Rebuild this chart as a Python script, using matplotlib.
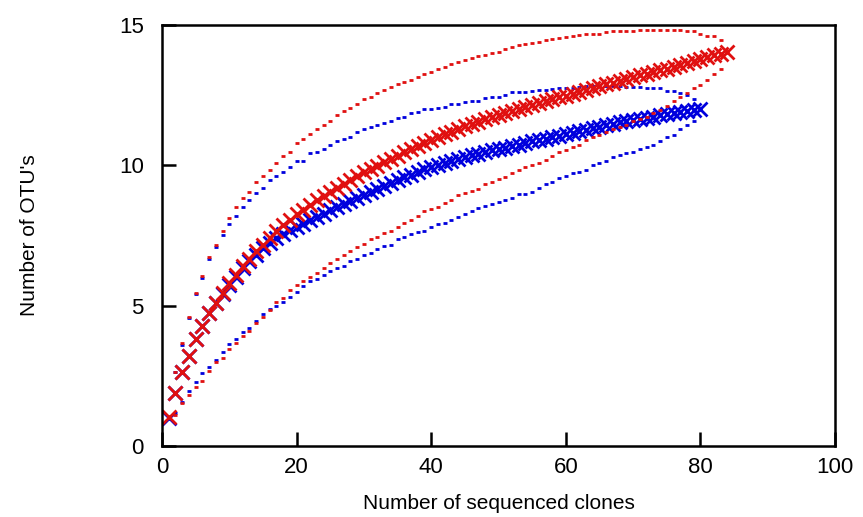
import matplotlib
matplotlib.use("Agg")
import matplotlib.pyplot as plt

plt.rcParams['font.family'] = ['Liberation Sans', 'DejaVu Sans']

# sample A (red): mean rarefaction curve and 95% bounds
red_mean = [1.02, 1.88, 2.65, 3.2, 3.8, 4.27, 4.73, 5.1, 5.45, 5.8,
            6.1, 6.4, 6.68, 6.95, 7.18, 7.42, 7.65, 7.87, 8.07, 8.25,
            8.42, 8.58, 8.75, 8.9, 9.05, 9.19, 9.33, 9.47, 9.61, 9.75,
            9.87, 9.99, 10.11, 10.23, 10.35, 10.46, 10.57, 10.68, 10.79, 10.9,
            11.0, 11.1, 11.2, 11.3, 11.4, 11.48, 11.56, 11.64, 11.72, 11.8,
            11.87, 11.94, 12.01, 12.08, 12.15, 12.22, 12.29, 12.35, 12.42, 12.48,
            12.55, 12.62, 12.69, 12.75, 12.82, 12.89, 12.95, 13.02, 13.08, 13.15,
            13.21, 13.27, 13.33, 13.39, 13.45, 13.52, 13.58, 13.65, 13.72, 13.78,
            13.85, 13.92, 13.98, 14.05]
red_upper = [2.62, 3.68, 4.6, 5.46, 6.07, 6.72, 7.16, 7.67, 8.11, 8.53,
             8.82, 9.06, 9.39, 9.62, 9.83, 10.07, 10.33, 10.49, 10.78, 10.93,
             11.11, 11.28, 11.44, 11.59, 11.79, 11.95, 12.03, 12.18, 12.35, 12.44,
             12.59, 12.68, 12.78, 12.9, 12.98, 13.05, 13.15, 13.25, 13.33, 13.42,
             13.52, 13.61, 13.68, 13.75, 13.81, 13.89, 13.93, 14.01, 14.05, 14.13,
             14.23, 14.29, 14.32, 14.37, 14.4, 14.45, 14.5, 14.55, 14.56, 14.62,
             14.66, 14.68, 14.68, 14.68, 14.76, 14.78, 14.78, 14.78, 14.78, 14.84,
             14.84, 14.84, 14.84, 14.84, 14.84, 14.84, 14.78, 14.78, 14.68, 14.62,
             14.6, 14.46]
red_lower = [1.12, 1.52, 1.82, 2.09, 2.33, 2.67, 2.98, 3.12, 3.45, 3.68,
             3.92, 4.11, 4.39, 4.61, 4.85, 5.14, 5.28, 5.56, 5.74, 5.88,
             6.03, 6.18, 6.35, 6.51, 6.65, 6.8, 6.95, 7.1, 7.2, 7.36,
             7.43, 7.6, 7.67, 7.81, 7.96, 8.05, 8.19, 8.38, 8.44, 8.53,
             8.67, 8.76, 8.94, 9.0, 9.1, 9.14, 9.33, 9.42, 9.53, 9.6,
             9.71, 9.83, 9.95, 10.01, 10.09, 10.19, 10.33, 10.49, 10.55, 10.66,
             10.72, 10.9, 11.0, 11.08, 11.2, 11.28, 11.35, 11.44, 11.59, 11.65,
             11.73, 11.88, 11.97, 12.11, 12.29, 12.45, 12.59, 12.74, 12.88, 13.04,
             13.24, 13.45]

# sample B (blue)
blue_mean = [1.0, 1.88, 2.65, 3.22, 3.82, 4.28, 4.75, 5.1, 5.42, 5.75,
             6.03, 6.33, 6.6, 6.82, 7.05, 7.25, 7.42, 7.56, 7.68, 7.8,
             7.92, 8.04, 8.16, 8.28, 8.4, 8.51, 8.62, 8.73, 8.84, 8.95,
             9.06, 9.17, 9.27, 9.37, 9.47, 9.57, 9.67, 9.77, 9.86, 9.95,
             10.02, 10.09, 10.16, 10.23, 10.3, 10.36, 10.42, 10.48, 10.53, 10.58,
             10.63, 10.69, 10.74, 10.8, 10.85, 10.9, 10.95, 11.0, 11.05, 11.1,
             11.16, 11.22, 11.27, 11.33, 11.38, 11.43, 11.48, 11.53, 11.58, 11.62,
             11.66, 11.7, 11.74, 11.78, 11.82, 11.86, 11.9, 11.94, 11.98, 12.02]
blue_upper = [2.62, 3.6, 4.55, 5.4, 6.0, 6.65, 7.1, 7.52, 7.9, 8.19,
              8.53, 8.76, 9.0, 9.21, 9.48, 9.62, 9.77, 9.93, 10.15, 10.15,
              10.43, 10.49, 10.6, 10.71, 10.87, 10.95, 11.02, 11.18, 11.28, 11.35,
              11.44, 11.5, 11.59, 11.67, 11.73, 11.85, 11.89, 12.0, 12.02, 12.05,
              12.09, 12.18, 12.2, 12.24, 12.29, 12.3, 12.4, 12.44, 12.44, 12.52,
              12.6, 12.6, 12.6, 12.65, 12.68, 12.68, 12.72, 12.74, 12.74, 12.74,
              12.78, 12.83, 12.83, 12.83, 12.83, 12.83, 12.83, 12.8, 12.8, 12.8,
              12.74, 12.74, 12.74, 12.66, 12.66, 12.59, 12.5, 12.36]
blue_lower = [1.16, 1.58, 1.97, 2.27, 2.61, 2.83, 3.07, 3.34, 3.62, 3.83,
              4.06, 4.19, 4.46, 4.7, 4.88, 4.99, 5.14, 5.3, 5.5, 5.71,
              5.88, 5.95, 6.09, 6.25, 6.35, 6.42, 6.59, 6.65, 6.8, 6.89,
              7.02, 7.12, 7.18, 7.36, 7.43, 7.54, 7.61, 7.67, 7.81, 7.91,
              7.96, 8.05, 8.17, 8.26, 8.38, 8.47, 8.55, 8.62, 8.7, 8.76,
              8.82, 8.98, 8.98, 9.06, 9.21, 9.33, 9.4, 9.56, 9.63, 9.71,
              9.77, 9.85, 10.01, 10.07, 10.16, 10.3, 10.38, 10.43, 10.48, 10.57,
              10.64, 10.71, 10.87, 11.02, 11.08, 11.28, 11.43, 11.59]

red_x = list(range(1, len(red_mean) + 1))
red_bx = list(range(2, len(red_upper) + 2))
blue_x = list(range(1, len(blue_mean) + 1))
blue_bx = list(range(2, len(blue_upper) + 2))

RED = '#e01010'
BLUE = '#0000dd'

fig = plt.figure(figsize=(8.63, 5.17), dpi=100)
ax = fig.add_axes([0.1877, 0.1373, 0.7799, 0.8143])

for x, m, bx, up, lo, c in [(blue_x, blue_mean, blue_bx, blue_upper, blue_lower, BLUE),
                            (red_x, red_mean, red_bx, red_upper, red_lower, RED)]:
    ax.plot(bx, up, ls='none', marker='_', ms=3.5, mew=2.0, color=c)
    ax.plot(bx, lo, ls='none', marker='_', ms=3.5, mew=2.0, color=c)
    ax.plot(x, m, ls='none', marker='x', ms=9.5, mew=2.0, color=c)

ax.set_xlim(0, 100)
ax.set_ylim(0, 15)
ax.set_xticks([0, 20, 40, 60, 80, 100])
ax.set_yticks([0, 5, 10, 15])
ax.tick_params(direction='in', length=10, width=1.8, labelsize=16)
ax.tick_params(axis='y', pad=13)
ax.tick_params(axis='x', pad=8)
for s in ax.spines.values():
    s.set_linewidth(1.8)

ax.set_xlabel('Number of sequenced clones', fontsize=15)
ax.set_ylabel("Number of OTU's", fontsize=15)
ax.xaxis.set_label_coords(0.5, -0.113)
ax.yaxis.set_label_coords(-0.183, 0.5)

fig.savefig('out.png', dpi=100)
